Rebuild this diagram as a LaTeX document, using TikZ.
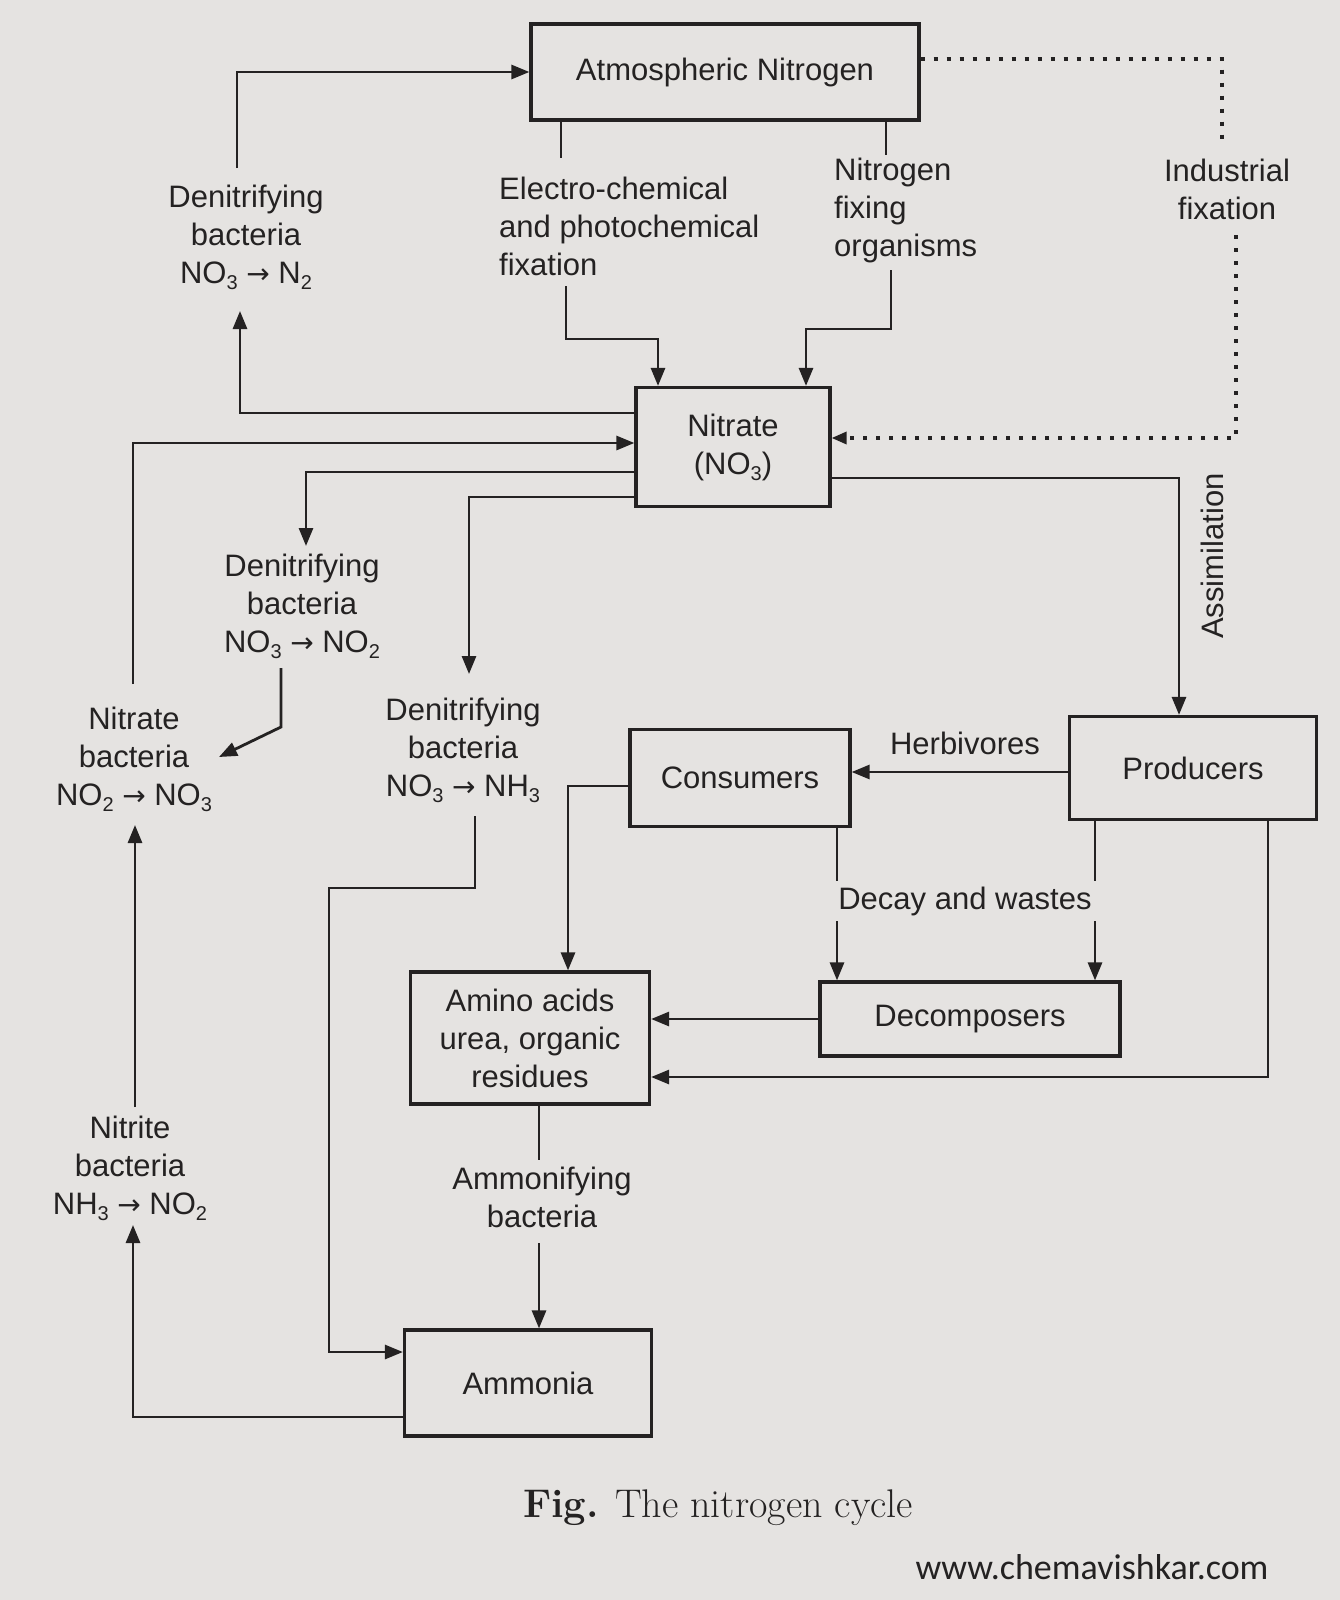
\documentclass[tikz,border=0pt]{standalone}
\usepackage{fontspec}
\newfontfamily\labelsans{Liberation Sans}
\newfontfamily\arrfont{DejaVu Sans}
\newfontfamily\wmfont{Carlito}
\usetikzlibrary{arrows.meta}
\definecolor{bg}{RGB}{229,227,225}
\definecolor{ink}{RGB}{36,34,34}
\newcommand\lblfont{\labelsans\fontsize{31}{38}\selectfont}
\newcommand\chemsub[1]{\raisebox{-6pt}{\fontsize{20}{20}\selectfont #1}}
\newcommand\yields{{\arrfont\fontsize{28}{28}\selectfont →}}
\tikzset{
  box/.style={draw=ink, line width=3.2pt, font=\lblfont, text=ink, align=center, inner sep=4pt},
  lbl/.style={font=\lblfont, text=ink, align=center, inner sep=0pt},
  conn/.style={draw=ink, line width=2.8pt},
  arr/.style={conn, -{Triangle[length=18pt,width=14pt]}},
  dots/.style={draw=ink, line width=3.2pt, dash pattern=on 4pt off 9pt},
}
\begin{document}
\begin{tikzpicture}[x=1pt,y=-1pt]
\fill[bg] (0,0) rectangle (1340,1600);
\useasboundingbox (0,0) rectangle (1340,1600);

% boxes
\node[box, minimum width=388pt, minimum height=96pt] (atm) at (725,72) {Atmospheric Nitrogen};
\node[box, minimum width=194pt, minimum height=119pt] (nit) at (733,447) {Nitrate\\(NO\chemsub{3})};
\node[box, minimum width=247pt, minimum height=103pt] (prod) at (1193,768) {Producers};
\node[box, minimum width=220pt, minimum height=97pt] (cons) at (740,778) {Consumers};
\node[box, minimum width=239pt, minimum height=132pt] (amino) at (530,1038) {Amino acids\\urea, organic\\residues};
\node[box, minimum width=300pt, minimum height=74pt] (decomp) at (970,1019) {Decomposers};
\node[box, minimum width=247pt, minimum height=106pt] (amm) at (528,1383) {Ammonia};

% labels
\node[lbl] (den1) at (246,237) {Denitrifying\\bacteria\\NO\chemsub{3} \yields{} N\chemsub{2}};
\node[lbl, align=left, anchor=west] (electro) at (499,226) {Electro-chemical\\and photochemical\\fixation};
\node[lbl, align=left, anchor=west] (nfix) at (834,210) {Nitrogen\\fixing\\organisms};
\node[lbl] (indus) at (1227,189) {Industrial\\fixation};
\node[lbl] (den2) at (302,606) {Denitrifying\\bacteria\\NO\chemsub{3} \yields{} NO\chemsub{2}};
\node[lbl] (den3) at (463,750) {Denitrifying\\bacteria\\NO\chemsub{3} \yields{} NH\chemsub{3}};
\node[lbl] (nitrb) at (134,759) {Nitrate\\bacteria\\NO\chemsub{2} \yields{} NO\chemsub{3}};
\node[lbl] (nitrib) at (130,1168) {Nitrite\\bacteria\\NH\chemsub{3} \yields{} NO\chemsub{2}};
\node[lbl] (ammf) at (542,1197) {Ammonifying\\bacteria};
\node[lbl] (herb) at (965,743) {Herbivores};
\node[lbl, rotate=90] (assim) at (1212,556) {Assimilation};

% free ends next to labels
\coordinate (d1t) at (237,168);
\coordinate (d1b) at (240,311);
\coordinate (et) at (561,158);
\coordinate (eb) at (566,286);
\coordinate (nt) at (886,155);
\coordinate (nb) at (891,270);
\coordinate (it) at (1222,145);
\coordinate (ib) at (1236,235);
\coordinate (nbt) at (133,684);
\coordinate (nbb) at (135,825);
\coordinate (nbr) at (219,757);
\coordinate (d2t) at (306,546);
\coordinate (d2b) at (281,668);
\coordinate (d3t) at (469,674);
\coordinate (d3b) at (475,816);
\coordinate (ntb) at (135,1107);
\coordinate (ntbb) at (133,1225);
\coordinate (amt) at (539,1160);
\coordinate (amb) at (539,1243);

% connectors
\draw[arr] (d1t) |- (atm.west);
\draw[arr] (nit.west |- 0,413) -| (d1b);
\draw[conn] (atm.south -| et) -- (et);
\draw[arr] (eb) |- (658,339) -- (nit.north -| 658,0);
\draw[conn] (atm.south -| nt) -- (nt);
\draw[arr] (nb) |- (806,329) -- (nit.north -| 806,0);
\draw[dots] (atm.east |- 0,59) -| (it);
\draw[dots, -{Triangle[length=15pt,width=12pt]}] (ib) |- (nit.east |- 0,438);
\draw[arr] (nbt) |- (nit.west |- 0,443);
\draw[arr] (nit.west |- 0,472) -| (d2t);
\draw[arr] (d2b) -- (281,727) -- (nbr);
\draw[arr] (nit.west |- 0,497) -| (d3t);
\draw[arr] (d3b) |- (329,888) |- (amm.west |- 0,1352);
\draw[arr] (nit.east |- 0,478) -| (prod.north -| 1179,0);
\draw[arr] (prod.west |- 0,772) -- (cons.east |- 0,772);
\draw[arr] (cons.west |- 0,786) -| (amino.north -| 568,0);
\draw[arr] (cons.south -| 837,0) -- (decomp.north -| 837,0);
\draw[arr] (prod.south -| 1095,0) -- (decomp.north -| 1095,0);
\draw[arr] (decomp.west) -- (amino.east |- decomp.west);
\draw[arr] (prod.south -| 1268,0) |- (amino.east |- 0,1077);
\draw[conn] (amino.south -| amt) -- (amt);
\draw[arr] (amb) -- (amm.north -| amb);
\draw[arr] (amm.west |- 0,1417) -| (ntbb);
\draw[arr] (ntb) -- (nbb);

% label drawn over the two decay lines
\node[lbl, fill=bg, inner sep=6pt] (decay) at (965,901) {Decay and wastes};

% caption and mark
\node[text=ink, font={\fontsize{40}{48}\selectfont}] (cap) at (718,1508) {\textbf{Fig.} The nitrogen cycle};
\node[text=ink, font={\wmfont\fontsize{36}{40}\selectfont}] (wm) at (1092,1567) {www.chemavishkar.com};
\end{tikzpicture}
\end{document}
